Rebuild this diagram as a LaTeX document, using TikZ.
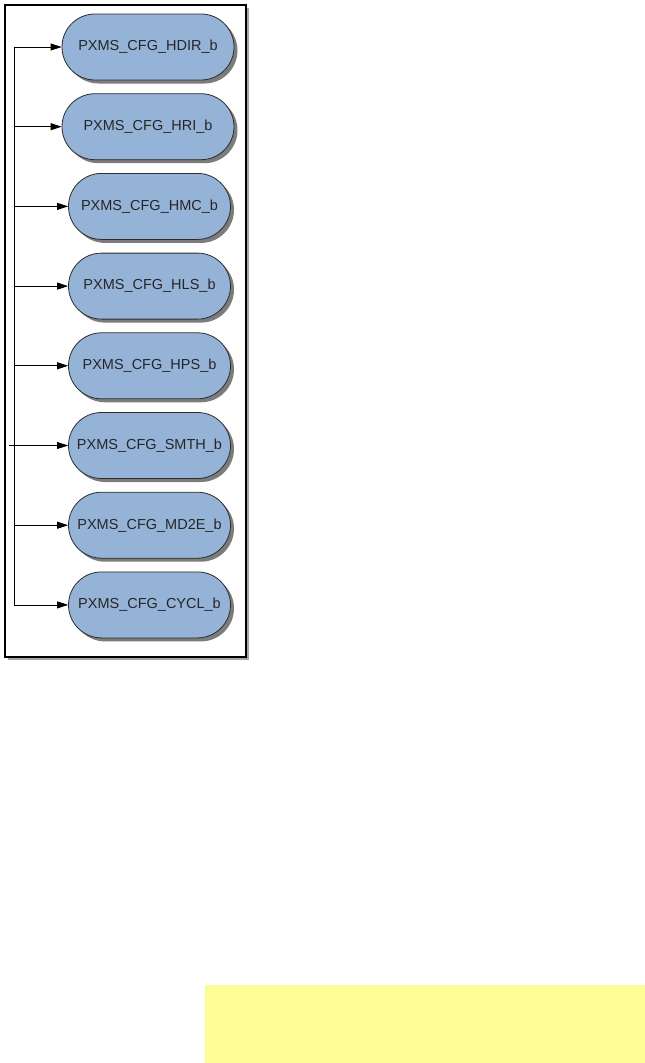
\documentclass[tikz,border=0pt]{standalone}
\usepackage{fontspec}
\setmainfont{Liberation Sans}
\usetikzlibrary{positioning, arrows.meta, shadows}

\definecolor{cfgblue}{RGB}{149,179,215}
\definecolor{cfgline}{RGB}{45,45,45}
\definecolor{noteyellow}{RGB}{253,253,150}

\begin{document}
\begin{tikzpicture}[
    x=1pt, y=-1pt,
    node distance=12.9pt,
    flag/.style = {rectangle, rounded corners=33pt, draw=cfgline, fill=cfgblue, line width=0.8pt,
        minimum width=162pt, minimum height=66pt, inner sep=0pt, text=black!85,
        font=\fontsize{14.5}{16}\selectfont,
        drop shadow={shadow xshift=3.5pt, shadow yshift=-3.5pt, fill=black!60, opacity=0.85}},
    wideflag/.style = {flag, minimum width=172pt},
    arrow/.style = {-{Triangle[length=11pt, width=7pt]}, line width=0.8pt},
]
\useasboundingbox (0,0) rectangle (645,1063);

% Frame round the flags
\fill[black!35] (8,8) rectangle (249,660);
\draw[fill=white, line width=1.5pt] (5,5) rectangle (246,657);

% Flags in a vertical layout
\node[wideflag] (hdir) at (148,47) {PXMS\_CFG\_HDIR\_b};
\node[wideflag, below=of hdir] (hri) {PXMS\_CFG\_HRI\_b};
\node[flag, below=of hri, xshift=1.5pt] (hmc) {PXMS\_CFG\_HMC\_b};
\node[flag, below=of hmc] (hls) {PXMS\_CFG\_HLS\_b};
\node[flag, below=of hls] (hps) {PXMS\_CFG\_HPS\_b};
\node[flag, below=of hps] (smth) {PXMS\_CFG\_SMTH\_b};
\node[flag, below=of smth] (md2e) {PXMS\_CFG\_MD2E\_b};
\node[flag, below=of md2e] (cycl) {PXMS\_CFG\_CYCL\_b};

% Trunk line
\coordinate (trunk) at (14,0);
\coordinate (stub) at (9,0);
\draw[line width=0.8pt] (trunk |- hdir) -- (trunk |- cycl);
\draw[line width=0.8pt] (stub |- smth) -- (trunk |- smth);

% Arrows
\foreach \n in {hdir, hri, hmc, hls, hps, smth, md2e, cycl}
    \draw[arrow] (trunk |- \n.west) -- (\n.west);

% Note field
\fill[noteyellow] (205,985) rectangle (645,1063);

\end{tikzpicture}
\end{document}
